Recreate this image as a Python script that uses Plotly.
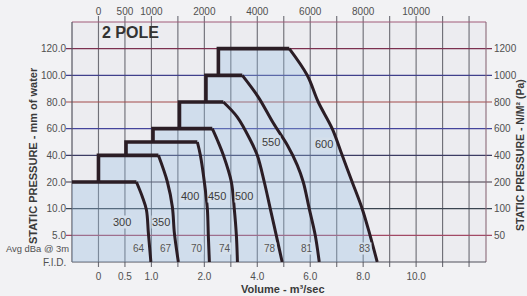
import numpy as np
import plotly.graph_objects as go

# ---------------- data ----------------
fan_sizes = ["300", "350", "400", "450", "500", "550", "600"]
avg_dba = [64, 67, 70, 74, 78, 81, 83]
top_pressure_mm = [20, 40, 50, 60, 80, 100, 120]          # top of each fan envelope
left_flow = [-0.5, 0.0, 0.52, 1.03, 1.53, 2.06, 2.53]      # left edge of each envelope (m3/s)

# fan curves: flow (m3/s) vs static pressure (mm water), from the top-right corner downwards
flow_300 = [0.717, 0.83, 0.906, 0.943, 0.99]
press_300 = [20, 14.4, 9.75, 5.4, 0]
flow_350 = [1.132, 1.302, 1.396, 1.434, 1.509]
press_350 = [40, 20, 10.6, 5.4, 0]
flow_400 = [1.868, 1.925, 2.0, 2.113, 2.15, 2.19]
press_400 = [50, 40, 20, 10, 5, 0]
flow_450 = [2.30, 2.49, 2.72, 3.02, 3.13, 3.21, 3.25]
press_450 = [60, 51.5, 40, 20, 10, 5, 0]
flow_500 = [2.717, 3.245, 3.736, 4.0, 4.264, 4.49, 4.717, 4.94]
press_500 = [80, 68.7, 51.5, 40, 20, 10, 5, 0]
flow_550 = [3.434, 4.038, 4.604, 5.132, 5.509, 5.736, 5.962, 6.189, 6.34]
press_550 = [100, 83.7, 64.2, 47.7, 32.7, 20, 10, 5, 0]
flow_600 = [5.208, 5.887, 6.302, 6.83, 7.208, 7.585, 7.962, 8.26, 8.53]
press_600 = [120, 100, 80, 60, 40, 20, 10, 5, 0]

# axis ticks (the chart's printed, non-linear scales)
flow_ticks = [0, 0.5, 1.0, 2.0, 4.0, 6.0, 8.0, 10.0]
flow_tick_labels = ["0", "0.5", "1.0", "2.0", "4.0", "6.0", "8.0", "10.0"]
top_tick_labels = ["0", "500", "1000", "2000", "4000", "6000", "8000", "10000"]
pressure_ticks_mm = [5, 10, 20, 40, 60, 80, 100, 120]
pressure_tick_labels = ["5.0", "10.0", "20.0", "40.0", "60.0", "80.0", "100.0", "120.0"]
pressure_tick_labels_pa = ["50", "100", "200", "400", "600", "800", "1000", "1200"]
row_labels = ["Avg dBa @ 3m", "F.I.D."]

curves = [(flow_300, press_300), (flow_350, press_350), (flow_400, press_400),
          (flow_450, press_450), (flow_500, press_500), (flow_550, press_550),
          (flow_600, press_600)]

# ---------------- scale: value -> printed grid position ----------------
FLOW_GRID = [0, 1, 2, 4, 6, 8, 10, 12]
PRESS_IN = [0] + pressure_ticks_mm
PRESS_GRID = list(range(len(PRESS_IN)))


def scale(v, xin, xout):
    v = np.atleast_1d(np.asarray(v, float))
    out = np.interp(v, xin, xout)
    s0 = (xout[1] - xout[0]) / (xin[1] - xin[0])
    s1 = (xout[-1] - xout[-2]) / (xin[-1] - xin[-2])
    lo, hi = v < xin[0], v > xin[-1]
    out[lo] = xout[0] + (v[lo] - xin[0]) * s0
    out[hi] = xout[-1] + (v[hi] - xin[-1]) * s1
    return out


def fx(v):
    return scale(v, flow_ticks, FLOW_GRID)


def fy(v):
    return scale(v, PRESS_IN, PRESS_GRID)


X_RANGE = [-1.0, 14.64]
Y_RANGE = [0, 9]
FONT = "Liberation Sans, Arial, sans-serif"
LINE_COL = "#2b1d25"
FILL_BG = "#d4dfeb"
ML, MT, PW, PH = 72, 22, 414, 240   # plot frame in page pixels

fig = go.Figure()

# ---- shaded envelope (union of all fans) ----
px_, py_ = [left_flow[0], left_flow[0]], [0, top_pressure_mm[0]]
for i in range(1, len(fan_sizes)):
    px_ += [left_flow[i], left_flow[i]]
    py_ += [top_pressure_mm[i - 1], top_pressure_mm[i]]
px_ += list(flow_600)
py_ += list(press_600)
fig.add_trace(go.Scatter(x=fx(px_), y=fy(py_), mode="lines", fill="toself",
                         fillcolor="rgba(150,190,228,0.32)", line=dict(width=0),
                         hoverinfo="skip", showlegend=False))

# ---- fan outlines ----
for i, (fl, pr) in enumerate(curves):
    if i == 0:
        sx, sy = [left_flow[0], fl[0]], [top_pressure_mm[0]] * 2
    else:
        sx = [left_flow[i], left_flow[i], fl[0]]
        sy = [top_pressure_mm[i - 1], top_pressure_mm[i], top_pressure_mm[i]]
    fig.add_trace(go.Scatter(x=fx(sx), y=fy(sy), mode="lines",
                             line=dict(color=LINE_COL, width=3.6),
                             hoverinfo="skip", showlegend=False))
    fig.add_trace(go.Scatter(x=fx(fl), y=fy(pr), mode="lines",
                             line=dict(color=LINE_COL, width=3, shape="spline", smoothing=1),
                             hoverinfo="skip", showlegend=False))

# dummy traces so the secondary axes render
fig.add_trace(go.Scatter(x=[None], y=[None], xaxis="x2", yaxis="y", showlegend=False))
fig.add_trace(go.Scatter(x=[None], y=[None], xaxis="x", yaxis="y2", showlegend=False))

# ---- grid lines as paper shapes (extend slightly past frame) ----
xspan = X_RANGE[1] - X_RANGE[0]
shapes = []
for k in range(15):
    xp = (k - X_RANGE[0]) / xspan
    shapes.append(dict(type="line", xref="paper", yref="paper", x0=xp, x1=xp,
                       y0=-5 / PH, y1=1 + 6 / PH, layer="below",
                       line=dict(color="#707078", width=1.15)))
hcols = {1: "#a24a66", 2: "#3a4450", 3: "#3e3442", 4: "#3c3c64", 5: "#44449c",
         6: "#a24a4a", 7: "#40408c", 8: "#7c3050", 9: "#a05a78"}
for k, col in hcols.items():
    yp = k / 9
    shapes.append(dict(type="line", xref="paper", yref="paper", x0=-6 / PW if k < 9 else 0,
                       x1=1 + 6 / PW if k < 9 else 1, y0=yp, y1=yp, layer="below",
                       line=dict(color=col, width=1.2)))
# frame
shapes.append(dict(type="line", xref="paper", yref="paper", x0=0, x1=0, y0=0, y1=1,
                   layer="below", line=dict(color="#555560", width=1.2)))
shapes.append(dict(type="line", xref="paper", yref="paper", x0=1, x1=1, y0=0, y1=1,
                   layer="below", line=dict(color="#8a6a78", width=1.1)))
shapes.append(dict(type="line", xref="paper", yref="paper", x0=0, x1=1, y0=0, y1=0,
                   layer="below", line=dict(color="#50505a", width=1.2)))


def pxp(x):
    return (x - ML) / PW


def pyp(y):
    return (MT + PH - y) / PH


tickfont = dict(family=FONT, size=10, color="#505050")

# ---- annotations ----
ann = []
size_label_pos = [(0.453, 7.5), (1.19, 7.5), (1.736, 14.75), (2.49, 14.75),
                  (3.51, 14.75), (4.53, 50), (6.53, 48.5)]
for name, (f, p) in zip(fan_sizes, size_label_pos):
    ann.append(dict(x=fx(f)[0], y=fy(p)[0], xref="x", yref="y", text=name, showarrow=False,
                    xanchor="center", yanchor="middle",
                    font=dict(family=FONT, size=11, color="#3c3c3c"),
                    bgcolor=FILL_BG, borderpad=0))
for (fl, pr), db in zip(curves, avg_dba):
    ann.append(dict(x=fx(fl[-1])[0], y=0.5, xref="x", yref="y", text=str(db), showarrow=False,
                    xanchor="right", yanchor="middle", xshift=-5,
                    font=dict(family=FONT, size=10, color="#555"),
                    bgcolor=FILL_BG, borderpad=0))
# row labels at the left of the two bottom rows
ann.append(dict(x=pxp(70.5), y=0.5, xref="paper", yref="y", text=row_labels[0],
                showarrow=False, xanchor="right", yanchor="middle",
                font=dict(family=FONT, size=9.4, color="#505050")))
ann.append(dict(x=pxp(67.5), y=0, xref="paper", yref="y", text=row_labels[1],
                showarrow=False, xanchor="right", yanchor="middle", font=tickfont))
ann.append(dict(x=pxp(100), y=pyp(33), xref="paper", yref="paper",
                text="<b>2 POLE</b>", showarrow=False, xanchor="left", yanchor="middle",
                font=dict(family=FONT, size=16, color="#333")))
ann.append(dict(x=pxp(33), y=pyp(156), xref="paper", yref="paper",
                text="<b>STATIC PRESSURE - mm of water</b>", showarrow=False, textangle=-90,
                xanchor="center", yanchor="middle",
                font=dict(family=FONT, size=11, color="#3a3a3a")))
ann.append(dict(x=pxp(520), y=pyp(155), xref="paper", yref="paper",
                text="<b>STATIC PRESSURE - N/M² (Pa)</b>", showarrow=False, textangle=-90,
                xanchor="center", yanchor="middle",
                font=dict(family=FONT, size=10.5, color="#3a3a3a")))
ann.append(dict(x=pxp(283), y=pyp(289), xref="paper", yref="paper",
                text="<b>Volume - m³/sec</b>", showarrow=False,
                xanchor="center", yanchor="middle",
                font=dict(family=FONT, size=11, color="#3a3a3a")))

common = dict(showgrid=False, zeroline=False, showline=False, ticks="", tickfont=tickfont,
              fixedrange=True, automargin=False, tickmode="array")
fig.update_layout(
    width=527, height=296,
    margin=dict(l=ML, r=527 - ML - PW, t=MT, b=296 - MT - PH, autoexpand=False),
    paper_bgcolor="#f2f2f4", plot_bgcolor="#ececf0",
    showlegend=False,
    shapes=shapes, annotations=ann,
    xaxis=dict(range=X_RANGE, tickvals=fx(flow_ticks), ticktext=flow_tick_labels,
               ticklabelstandoff=7, **common),
    xaxis2=dict(range=X_RANGE, overlaying="x", side="top",
                tickvals=fx(flow_ticks), ticktext=top_tick_labels,
                ticklabelstandoff=4, **common),
    yaxis=dict(range=Y_RANGE, tickvals=fy(pressure_ticks_mm), ticktext=pressure_tick_labels,
               ticklabelstandoff=5, **common),
    yaxis2=dict(range=Y_RANGE, overlaying="y", side="right",
                tickvals=fy(pressure_ticks_mm), ticktext=pressure_tick_labels_pa,
                ticklabelstandoff=7, **common),
)

fig.write_html("out.html", config={"displayModeBar": False},
               post_script="document.body.style.margin='0';document.body.style.overflow='hidden';")
